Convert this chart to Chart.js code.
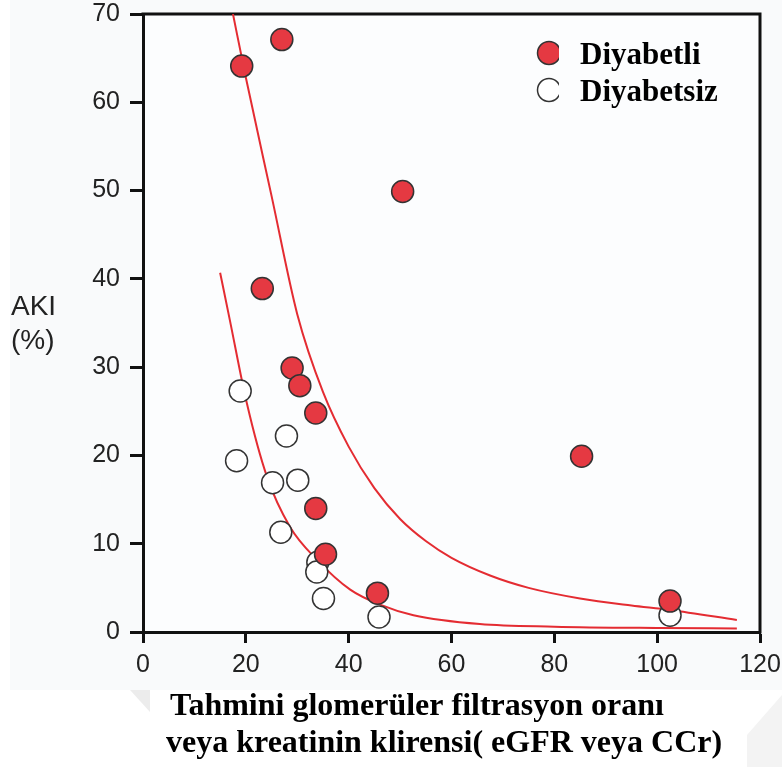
<!DOCTYPE html>
<html>
<head>
<meta charset="utf-8">
<script src="https://cdn.jsdelivr.net/npm/chart.js@4/dist/chart.umd.min.js"></script>
<style>
  html, body { margin: 0; padding: 0; background: #ffffff; }
  #wrap { position: relative; width: 782px; height: 767px; }
  canvas { display: block; }
</style>
</head>
<body>
<div id="wrap"><canvas id="c" width="782" height="767"></canvas></div>
<script>
// ---- Data ----
const diabeticX = [19.2, 27.0, 50.5, 23.2, 29.0, 30.5, 33.6, 33.6, 35.5, 45.6, 85.3, 102.5];
const diabeticY = [64.1, 67.1, 49.9, 38.9, 29.9, 27.9, 24.8, 14.0, 8.8, 4.4, 19.9, 3.5];

const nonDiabeticX = [18.9, 18.2, 27.9, 25.2, 30.1, 26.8, 34.0, 33.8, 35.1, 45.9, 102.5];
const nonDiabeticY = [27.3, 19.4, 22.2, 16.9, 17.2, 11.3, 7.9, 6.8, 3.8, 1.7, 1.9];

const upperCurveX = [17.5, 20.0, 25.0, 30.0, 35.0, 40.0, 45.0, 50.0, 55.0, 60.0, 67.5, 75.0, 85.0, 95.0, 102.5, 115.5];
const upperCurveY = [70.0, 62.8, 49.4, 36.0, 27.2, 21.0, 16.3, 12.8, 10.3, 8.4, 6.4, 5.0, 3.8, 3.0, 2.5, 1.35];

const lowerCurveX = [15.0, 16.9, 20.2, 24.1, 28.6, 33.8, 40.3, 46.1, 52.6, 65.5, 80.0, 100.0, 115.5];
const lowerCurveY = [40.7, 35.3, 25.9, 17.6, 11.9, 8.2, 4.8, 3.1, 1.9, 0.9, 0.6, 0.45, 0.4];

const xTicks = [0, 20, 40, 60, 80, 100, 120];
const yTicks = [0, 10, 20, 30, 40, 50, 60, 70];

const legendLabels = ['Diyabetli', 'Diyabetsiz'];
const yTitleLines = ['AKI', '(%)'];
const xTitleLines = ['Tahmini glomerüler filtrasyon oranı', 'veya kreatinin klirensi( eGFR veya CCr)'];

// ---- Build ----
const zip = (xs, ys) => xs.map((x, i) => ({ x: x, y: ys[i] }));

const RED = 'rgb(229, 57, 66)';
const LINE_RED = 'rgb(228, 44, 50)';
const EDGE = '#333333';

const bgPlugin = {
  id: 'bg',
  beforeDraw(chart) {
    const ctx = chart.ctx;
    ctx.save();
    ctx.fillStyle = '#ffffff';
    ctx.fillRect(0, 0, chart.width, chart.height);
    ctx.fillStyle = '#f9fafb';
    ctx.fillRect(10, 0, chart.width - 10, 690);
    const a = chart.chartArea;
    ctx.fillStyle = '#fcfdfe';
    ctx.fillRect(a.left, a.top, a.right - a.left, a.bottom - a.top);
    ctx.fillStyle = '#ececec';
    ctx.beginPath();
    ctx.moveTo(130, 690); ctx.lineTo(150, 690); ctx.lineTo(150, 712); ctx.closePath();
    ctx.fill();
    ctx.fillStyle = '#f3f3f3';
    ctx.beginPath();
    ctx.moveTo(747, 767); ctx.lineTo(747, 735); ctx.lineTo(782, 695); ctx.lineTo(782, 767); ctx.closePath();
    ctx.fill();
    ctx.restore();
  }
};

const framePlugin = {
  id: 'frame',
  beforeDatasetsDraw(chart) {
    const ctx = chart.ctx, a = chart.chartArea;
    ctx.save();
    ctx.strokeStyle = '#111';
    ctx.lineWidth = 3;
    ctx.beginPath();
    ctx.moveTo(a.left - 1.5, a.top);
    ctx.lineTo(a.right, a.top);
    ctx.lineTo(a.right, a.bottom + 1.5);
    ctx.stroke();
    ctx.restore();
  }
};

const textPlugin = {
  id: 'texts',
  afterDraw(chart) {
    const ctx = chart.ctx;
    ctx.save();
    ctx.fillStyle = '#222';
    ctx.font = '28px "Liberation Sans", Arial, sans-serif';
    ctx.textAlign = 'left';
    ctx.textBaseline = 'alphabetic';
    ctx.fillText(yTitleLines[0], 11, 315);
    ctx.fillText(yTitleLines[1], 11, 349);
    ctx.fillStyle = '#000';
    ctx.font = 'bold 32px "Liberation Serif", "Times New Roman", serif';
    ctx.fillText(xTitleLines[0], 170, 715);
    ctx.fillText(xTitleLines[1], 166, 752);
    const ds = chart.data.datasets;
    const items = [{ y: 53, base: 64 }, { y: 90, base: 101 }];
    items.forEach((it, i) => {
      ctx.save();
      ctx.beginPath();
      ctx.rect(530, it.y - 16, 29, 32);
      ctx.clip();
      ctx.beginPath();
      ctx.arc(549, it.y, 11.5, 0, Math.PI * 2);
      ctx.fillStyle = ds[i].backgroundColor;
      ctx.fill();
      ctx.lineWidth = 1.5;
      ctx.strokeStyle = ds[i].borderColor;
      ctx.stroke();
      ctx.restore();
      ctx.fillStyle = '#000';
      ctx.font = 'bold 31px "Liberation Serif", "Times New Roman", serif';
      ctx.fillText(legendLabels[i], 580, it.base);
    });
    ctx.restore();
  }
};

const tickFont = { family: '"Liberation Sans", Arial, sans-serif', size: 25 };
const zeroPad = (s) => { s.paddingLeft = 0; s.paddingRight = 0; s.paddingTop = 0; s.paddingBottom = 0; };

new Chart(document.getElementById('c'), {
  type: 'scatter',
  data: {
    datasets: [
      {
        label: legendLabels[0],
        data: zip(diabeticX, diabeticY),
        backgroundColor: RED,
        borderColor: EDGE,
        borderWidth: 1.5,
        pointRadius: 11,
        order: 1
      },
      {
        label: legendLabels[1],
        data: zip(nonDiabeticX, nonDiabeticY),
        backgroundColor: '#ffffff',
        borderColor: EDGE,
        borderWidth: 1.5,
        pointRadius: 11,
        order: 2
      },
      {
        type: 'line',
        label: 'fit1',
        data: zip(upperCurveX, upperCurveY),
        borderColor: LINE_RED,
        borderWidth: 2,
        pointRadius: 0,
        fill: false,
        cubicInterpolationMode: 'monotone',
        order: 3
      },
      {
        type: 'line',
        label: 'fit2',
        data: zip(lowerCurveX, lowerCurveY),
        borderColor: LINE_RED,
        borderWidth: 2,
        pointRadius: 0,
        fill: false,
        cubicInterpolationMode: 'monotone',
        order: 4
      }
    ]
  },
  options: {
    responsive: false,
    animation: false,
    devicePixelRatio: 1,
    layout: { padding: { top: 14, right: 22, left: 0, bottom: 0 } },
    plugins: {
      legend: { display: false },
      tooltip: { enabled: false }
    },
    scales: {
      x: {
        type: 'linear',
        min: xTicks[0],
        max: xTicks[xTicks.length - 1],
        afterBuildTicks(s) { s.ticks = xTicks.map(v => ({ value: v })); },
        afterFit(s) { s.height = 135; zeroPad(s); },
        ticks: { font: tickFont, color: '#222', padding: 7, maxRotation: 0 },
        grid: { display: true, drawOnChartArea: false, drawTicks: true, tickLength: 11, tickWidth: 3, tickColor: '#111' },
        border: { display: true, width: 3, color: '#111' }
      },
      y: {
        type: 'linear',
        min: yTicks[0],
        max: yTicks[yTicks.length - 1],
        afterBuildTicks(s) { s.ticks = yTicks.map(v => ({ value: v })); },
        afterFit(s) { s.width = 143; zeroPad(s); },
        ticks: { font: tickFont, color: '#222', padding: 10 },
        grid: { display: true, drawOnChartArea: false, drawTicks: true, tickLength: 13, tickWidth: 3, tickColor: '#111' },
        border: { display: true, width: 3, color: '#111' }
      }
    }
  },
  plugins: [bgPlugin, framePlugin, textPlugin]
});
</script>
</body>
</html>
